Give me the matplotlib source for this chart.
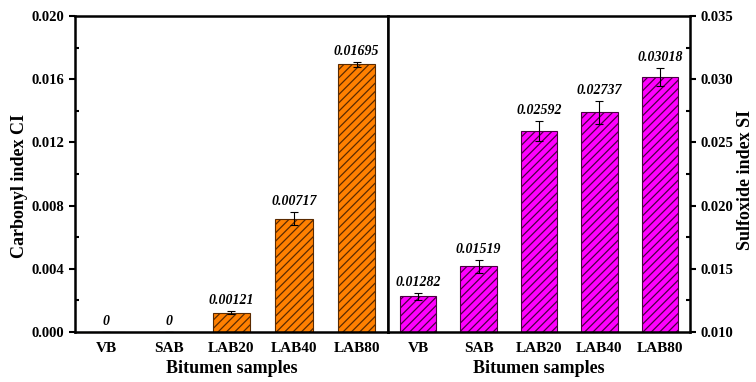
import numpy as np
import matplotlib.pyplot as plt
from matplotlib.ticker import MultipleLocator, FormatStrFormatter

plt.rcParams['font.family'] = ['Liberation Serif', 'DejaVu Serif']
plt.rcParams['font.weight'] = 'bold'
plt.rcParams['hatch.linewidth'] = 0.9
plt.rcParams['hatch.color'] = 'black'

samples = ['VB', 'SAB', 'LAB20', 'LAB40', 'LAB80']
ci = [0, 0, 0.00121, 0.00717, 0.01695]
ci_err = [0, 0, 0.0001, 0.00042, 0.00016]
ci_labels = ['0', '0', '0.00121', '0.00717', '0.01695']
si = [0.01282, 0.01519, 0.02592, 0.02737, 0.03018]
si_err = [0.00027, 0.00053, 0.0008, 0.00092, 0.00069]
si_labels = ['0.01282', '0.01519', '0.02592', '0.02737', '0.03018']

x = np.arange(len(samples))

fig = plt.figure(figsize=(7.56, 3.82), dpi=100)
ax1 = fig.add_axes([0.0992, 0.131, 0.414, 0.827])
ax2 = fig.add_axes([0.5132, 0.131, 0.3995, 0.827])


def style(ax):
    for s in ax.spines.values():
        s.set_linewidth(1.8)
    ax.set_xlim(-0.5, 4.5)
    ax.set_xticks(x)
    ax.set_xticklabels(samples, fontsize=11, fontweight='bold')
    ax.tick_params(axis='x', length=0, pad=7)
    ax.set_xlabel('Bitumen samples', fontsize=13, fontweight='bold', labelpad=4)


# carbonyl index
ax1.bar(x, ci, width=0.6, color='#ff8000', edgecolor='#5a2a00', linewidth=0.8,
        hatch='////', yerr=ci_err, capsize=3,
        error_kw=dict(elinewidth=0.8, capthick=0.8, ecolor='black'), zorder=2)
for xi, v, e, t in zip(x, ci, ci_err, ci_labels):
    ax1.annotate(t, (xi, v + e), xytext=(0, 3), textcoords='offset points',
                 ha='center', va='bottom', fontsize=10, fontstyle='italic', fontweight='bold')
style(ax1)
ax1.set_ylim(0, 0.020)
ax1.yaxis.set_major_locator(MultipleLocator(0.004))
ax1.yaxis.set_minor_locator(MultipleLocator(0.002))
ax1.yaxis.set_major_formatter(FormatStrFormatter('%.3f'))
ax1.tick_params(axis='y', which='major', direction='out', length=4, width=1.5, labelsize=10.5)
ax1.tick_params(axis='y', which='minor', direction='in', length=3, width=1.5)
ax1.set_ylabel('Carbonyl index CI', fontsize=13, fontweight='bold', labelpad=3)
ax1.yaxis.label.set_y(0.462)

# sulfoxide index
ax2.bar(x, si, width=0.6, color='#ff00ff', edgecolor='#4a0040', linewidth=0.8,
        hatch='////', yerr=si_err, capsize=3,
        error_kw=dict(elinewidth=0.8, capthick=0.8, ecolor='black'), zorder=2)
for xi, v, e, t in zip(x, si, si_err, si_labels):
    ax2.annotate(t, (xi, v + e), xytext=(0, 3), textcoords='offset points',
                 ha='center', va='bottom', fontsize=10, fontstyle='italic', fontweight='bold')
style(ax2)
ax2.set_ylim(0.010, 0.035)
ax2.yaxis.tick_right()
ax2.yaxis.set_label_position('right')
ax2.yaxis.set_major_locator(MultipleLocator(0.005))
ax2.yaxis.set_minor_locator(MultipleLocator(0.0025))
ax2.yaxis.set_major_formatter(FormatStrFormatter('%.3f'))
ax2.tick_params(axis='y', which='major', direction='out', length=4, width=1.5, labelsize=10.5)
ax2.tick_params(axis='y', which='minor', direction='in', length=3, width=1.5)
ax2.set_ylabel('Sulfoxide index SI', fontsize=13, fontweight='bold', labelpad=3)
ax2.yaxis.label.set_y(0.481)

plt.savefig('out.png', dpi=100)
